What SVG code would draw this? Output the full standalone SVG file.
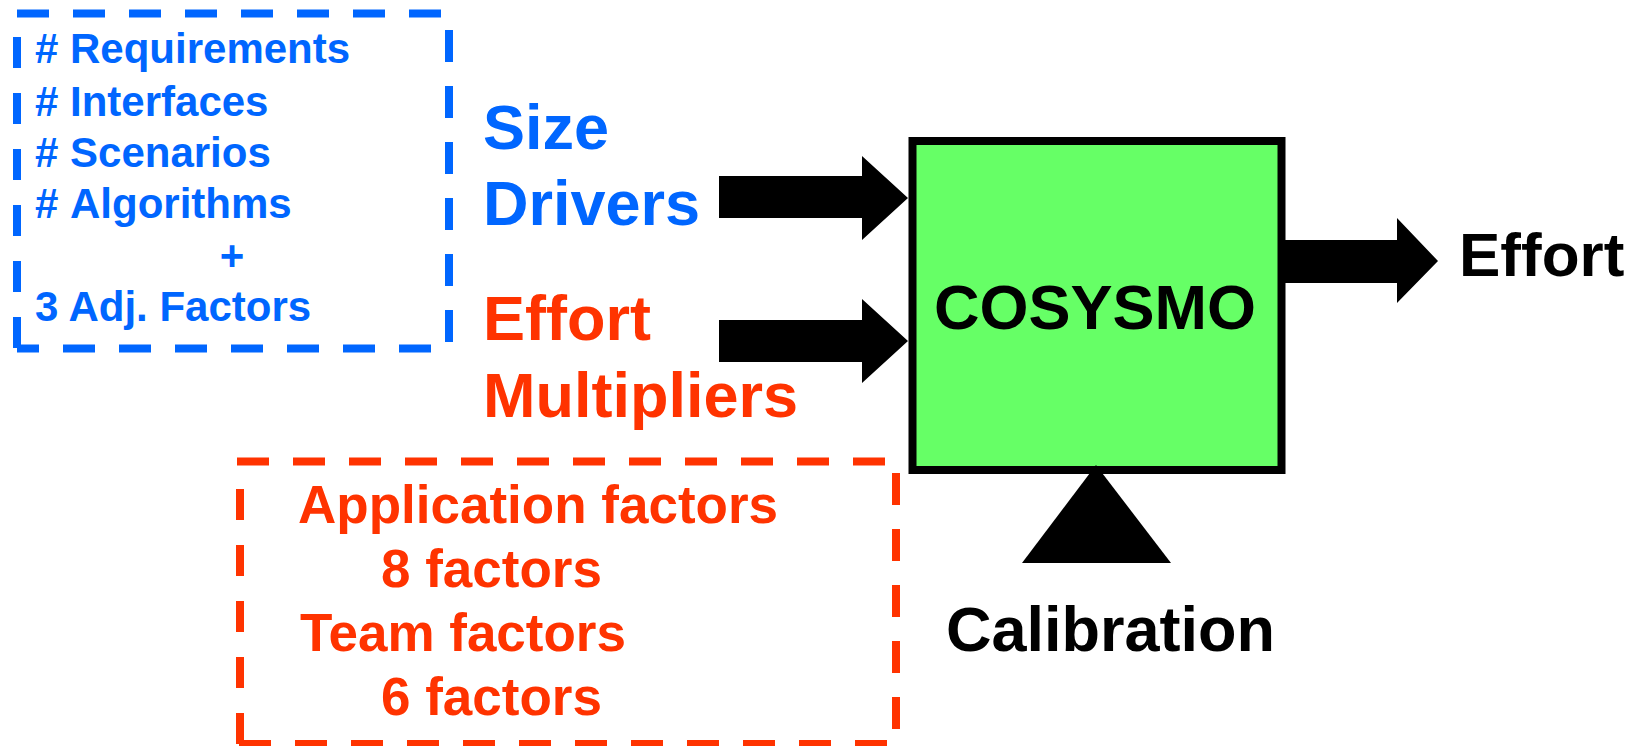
<svg xmlns="http://www.w3.org/2000/svg" width="1644" height="746" viewBox="0 0 1644 746">
<style>
text{font-family:"Liberation Sans",Arial,sans-serif;font-weight:bold}
.blue{fill:#0066FF}
.orange{fill:#FF3300}
.black{fill:#000}
.bdash{fill:none;stroke:#0066FF;stroke-width:8;stroke-dasharray:32 24}
.odash{fill:none;stroke:#FF3300;stroke-width:8;stroke-dasharray:32 24}
</style>
<rect width="1644" height="746" fill="#fff"/>
<g id="size-list">
<line class="bdash" x1="17" y1="13.5" x2="441" y2="13.5"/>
<line class="bdash" x1="449" y1="30" x2="449" y2="342"/>
<line class="bdash" x1="17" y1="348.5" x2="431" y2="348.5" stroke-dashoffset="10"/>
<line class="bdash" x1="17" y1="37" x2="17" y2="352.5" style="stroke-dasharray:31 25"/>
<text class="blue" x="35" y="63" font-size="42">#&#160;Requirements</text>
<text class="blue" x="35" y="116" font-size="42">#&#160;Interfaces</text>
<text class="blue" x="35" y="167" font-size="42">#&#160;Scenarios</text>
<text class="blue" x="35" y="218" font-size="42">#&#160;Algorithms</text>
<text class="blue" x="232" y="270" font-size="42" text-anchor="middle">+</text>
<text class="blue" x="35" y="321" font-size="42">3 Adj. Factors</text>
</g>
<g id="size-drivers">
<text class="blue" x="483" y="149" font-size="63">Size</text>
<text class="blue" x="483" y="225" font-size="63">Drivers</text>
</g>
<g id="effort-multipliers">
<text class="orange" x="483" y="340" font-size="63">Effort</text>
<text class="orange" x="483" y="417" font-size="63">Multipliers</text>
</g>
<g id="em-list">
<line class="odash" x1="237" y1="461.5" x2="885" y2="461.5"/>
<line class="odash" x1="896" y1="473" x2="896" y2="729"/>
<line class="odash" x1="239" y1="744" x2="887" y2="744"/>
<line class="odash" x1="240" y1="489" x2="240" y2="748" style="stroke-dasharray:31 25"/>
<text class="orange" x="298" y="523" font-size="53">Application factors</text>
<text class="orange" x="381" y="587" font-size="53">8 factors</text>
<text class="orange" x="300" y="651" font-size="53">Team factors</text>
<text class="orange" x="381" y="715" font-size="53">6 factors</text>
</g>
<g id="cosysmo">
<rect x="912.5" y="141" width="369" height="329" fill="#66FF66" stroke="#000" stroke-width="8"/>
<text class="black" x="1095" y="329" font-size="63" text-anchor="middle">COSYSMO</text>
</g>
<g id="effort">
<text class="black" x="1459" y="276" font-size="62">Effort</text>
</g>
<g id="calibration">
<text class="black" x="946" y="651" font-size="63">Calibration</text>
</g>
<g id="connectors">
<polygon points="719,176 862,176 862,156 908,198 862,240 862,218 719,218" fill="#000"/>
<polygon points="719,320 862,320 862,299 908,341 862,383 862,362 719,362" fill="#000"/>
<polygon points="1285,240 1397,240 1397,218 1438,261 1397,303 1397,283 1285,283" fill="#000"/>
<polygon points="1096,465 1171,563 1022,563" fill="#000"/>
</g>
</svg>
